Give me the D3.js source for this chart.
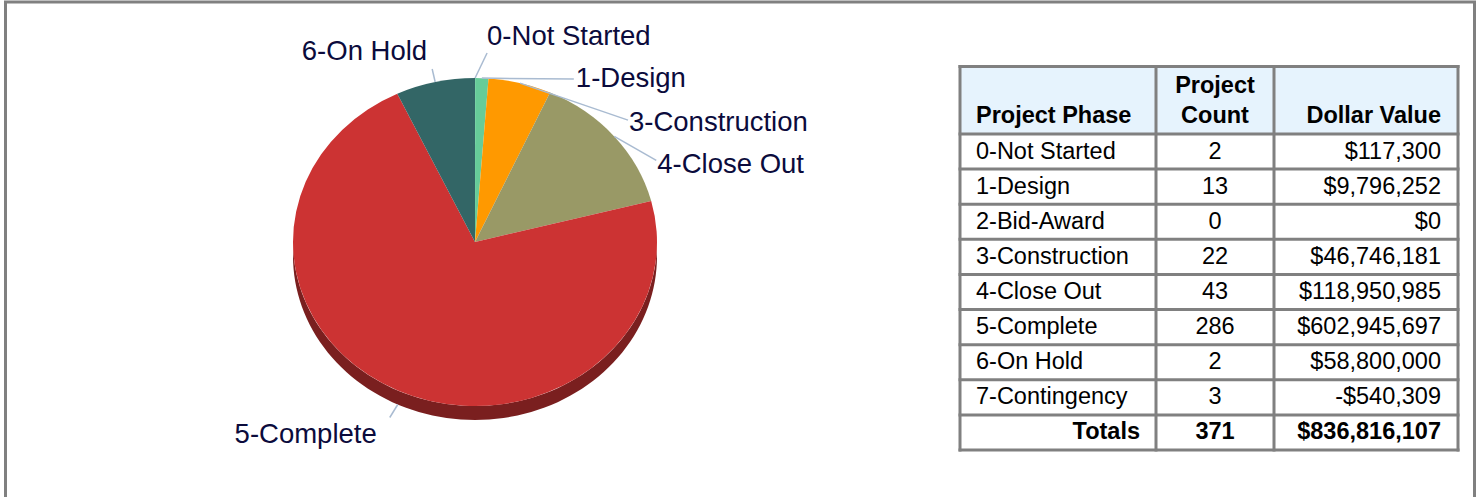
<!DOCTYPE html>
<html>
<head>
<meta charset="utf-8">
<script src="https://cdn.jsdelivr.net/npm/d3@7/dist/d3.min.js"></script>
<style>
  html, body { margin: 0; padding: 0; background: #fff; }
  svg { display: block; }
  text { font-family: "Liberation Sans", Arial, sans-serif; }
</style>
</head>
<body>
<svg id="chart" width="1479" height="497"></svg>
<script>
// ---- data ----
const phases = ["0-Not Started", "1-Design", "2-Bid-Award", "3-Construction", "4-Close Out", "5-Complete", "6-On Hold", "7-Contingency"];
const counts = [2, 13, 0, 22, 43, 286, 2, 3];
const dollars = [117300, 9796252, 0, 46746181, 118950985, 602945697, 58800000, -540309];
const totalsLabel = "Totals";
const totalCount = 371;
const totalDollars = 836816107;
const headers = [["Project Phase"], ["Project", "Count"], ["Dollar Value"]];
const sliceColors = ["#66CC99", "#66CC99", "#9999FF", "#FF9900", "#999966", "#CC3333", "#336666", "#CCCCCC"];
const sideColors  = ["#3d7a5c", "#3d7a5c", "#5c5c99", "#995c00", "#5c5c3d", "#7A1F1F", "#1f3d3d", "#7a7a7a"];

// ---- layout (styles / positions, not data) ----
const W = 1479, H = 497;
const cx = 475, cy = 242, rx = 182, ry = 164, depth = 14;
// label offsets: line end relative to anchor, text position relative to line end
const labelLayout = {
  "0-Not Started":  {lx: 12, ly: -25, tx: 0,  ty: -8,  anchor: "start"},
  "1-Design":       {lx: 92, ly: 1,   tx: 2,  ty: 8,   anchor: "start"},
  "3-Construction": {lx: 108, ly: 37, tx: 1,  ty: 11,  anchor: "start"},
  "4-Close Out":    {lx: 42, ly: 24,  tx: 1,  ty: 13,  anchor: "start"},
  "5-Complete":     {lx: -8, ly: 13,  tx: -13, ty: 25, anchor: "end"},
  "6-On Hold":      {lx: -3, ly: -13, tx: -5, ty: -9,  anchor: "end"}
};

const svg = d3.select("#chart");

// outer frame
svg.append("rect")
  .attr("x", 5.5).attr("y", 2).attr("width", 1469).attr("height", 520)
  .attr("fill", "#fff").attr("stroke", "#808080").attr("stroke-width", 3);

// ---- pie ----
const pieData = phases.map((p, i) => ({phase: p, value: Math.max(0, dollars[i]), i}));
const arcs = d3.pie().sort(null).value(d => d.value).startAngle(0).endAngle(2 * Math.PI)(pieData);

const ex = a => cx + rx * Math.sin(a);
const ey = a => cy - ry * Math.cos(a);

// side walls (visible part: angles between PI/2 and 3PI/2)
const sideG = svg.append("g");
arcs.forEach(a => {
  const a0 = Math.max(a.startAngle, Math.PI / 2);
  const a1 = Math.min(a.endAngle, 3 * Math.PI / 2);
  if (a1 <= a0 || a.value <= 0) return;
  const p = d3.path();
  p.moveTo(ex(a0), ey(a0));
  const n = 80;
  for (let k = 1; k <= n; k++) {
    const t = a0 + (a1 - a0) * k / n;
    p.lineTo(ex(t), ey(t));
  }
  for (let k = n; k >= 0; k--) {
    const t = a0 + (a1 - a0) * k / n;
    p.lineTo(ex(t), ey(t) + depth);
  }
  p.closePath();
  sideG.append("path").attr("d", p.toString()).attr("fill", sideColors[a.data.i]);
});

// top face
const arcGen = d3.arc().innerRadius(0).outerRadius(rx);
svg.append("g")
  .attr("transform", `translate(${cx},${cy}) scale(1,${ry / rx})`)
  .selectAll("path")
  .data(arcs.filter(a => a.value > 0))
  .join("path")
  .attr("d", arcGen)
  .attr("fill", a => sliceColors[a.data.i]);

// labels + leader lines
const labG = svg.append("g");
arcs.forEach(a => {
  const L = labelLayout[a.data.phase];
  if (!L || a.value <= 0) return;
  const m = (a.startAngle + a.endAngle) / 2;
  let axp = ex(m), ayp = ey(m);
  if (m > Math.PI / 2 && m < 3 * Math.PI / 2) ayp += depth;
  const lx = axp + L.lx, ly = ayp + L.ly;
  labG.append("line")
    .attr("x1", axp).attr("y1", ayp).attr("x2", lx).attr("y2", ly)
    .attr("stroke", "#a9bbd1").attr("stroke-width", 1.5);
  labG.append("text")
    .attr("x", lx + L.tx).attr("y", ly + L.ty)
    .attr("text-anchor", L.anchor)
    .attr("font-size", 27.5)
    .attr("fill", "#0b0b3c")
    .text(a.data.phase);
});

// ---- table ----
const colEdges = [960, 1156, 1274, 1458];
const tableTop = 66.5, headerBottom = 134, tableBottom = 450;
const rowCount = phases.length + 1;
const yRow = d3.scaleBand().domain(d3.range(rowCount)).range([headerBottom, tableBottom]);
const tg = svg.append("g");
const fs = 23.5;

tg.append("rect")
  .attr("x", colEdges[0]).attr("y", tableTop)
  .attr("width", colEdges[3] - colEdges[0]).attr("height", headerBottom - tableTop)
  .attr("fill", "#E6F3FD");

// header text
const hdrBase = 123;
tg.append("text").attr("x", colEdges[0] + 16).attr("y", hdrBase)
  .attr("font-size", fs).attr("font-weight", "bold").text(headers[0][0]);
const c2 = (colEdges[1] + colEdges[2]) / 2;
headers[1].forEach((t, k) => {
  tg.append("text").attr("x", c2).attr("y", hdrBase - (headers[1].length - 1 - k) * 30)
    .attr("text-anchor", "middle").attr("font-size", fs).attr("font-weight", "bold").text(t);
});
tg.append("text").attr("x", colEdges[3] - 17).attr("y", hdrBase)
  .attr("text-anchor", "end").attr("font-size", fs).attr("font-weight", "bold").text(headers[2][0]);

const fmt = v => (v < 0 ? "-$" : "$") + d3.format(",")(Math.abs(v));
const rows = phases.map((p, i) => ({phase: p, count: counts[i], dollars: dollars[i], bold: false}));
rows.push({phase: totalsLabel, count: totalCount, dollars: totalDollars, bold: true});

rows.forEach((r, i) => {
  const base = yRow(i) + yRow.bandwidth() / 2 + 7;
  tg.append("text")
    .attr("x", r.bold ? colEdges[1] - 16 : colEdges[0] + 16)
    .attr("text-anchor", r.bold ? "end" : "start")
    .attr("y", base).attr("font-size", fs).attr("font-weight", r.bold ? "bold" : "normal")
    .text(r.phase);
  tg.append("text").attr("x", c2).attr("y", base).attr("text-anchor", "middle")
    .attr("font-size", fs).attr("font-weight", r.bold ? "bold" : "normal").text(r.count);
  tg.append("text").attr("x", colEdges[3] - 17).attr("y", base).attr("text-anchor", "end")
    .attr("font-size", fs).attr("font-weight", r.bold ? "bold" : "normal").text(fmt(r.dollars));
});

// grid lines
const hLines = [tableTop, headerBottom].concat(d3.range(1, rowCount + 1).map(i => yRow(i - 1) + yRow.bandwidth()));
hLines.forEach(y => {
  tg.append("line").attr("x1", colEdges[0] - 1.5).attr("x2", colEdges[3] + 1.5)
    .attr("y1", y).attr("y2", y).attr("stroke", "#808080").attr("stroke-width", 3);
});
colEdges.forEach(x => {
  tg.append("line").attr("x1", x).attr("x2", x).attr("y1", tableTop - 1.5).attr("y2", tableBottom + 1.5)
    .attr("stroke", "#808080").attr("stroke-width", 3);
});
</script>
</body>
</html>
